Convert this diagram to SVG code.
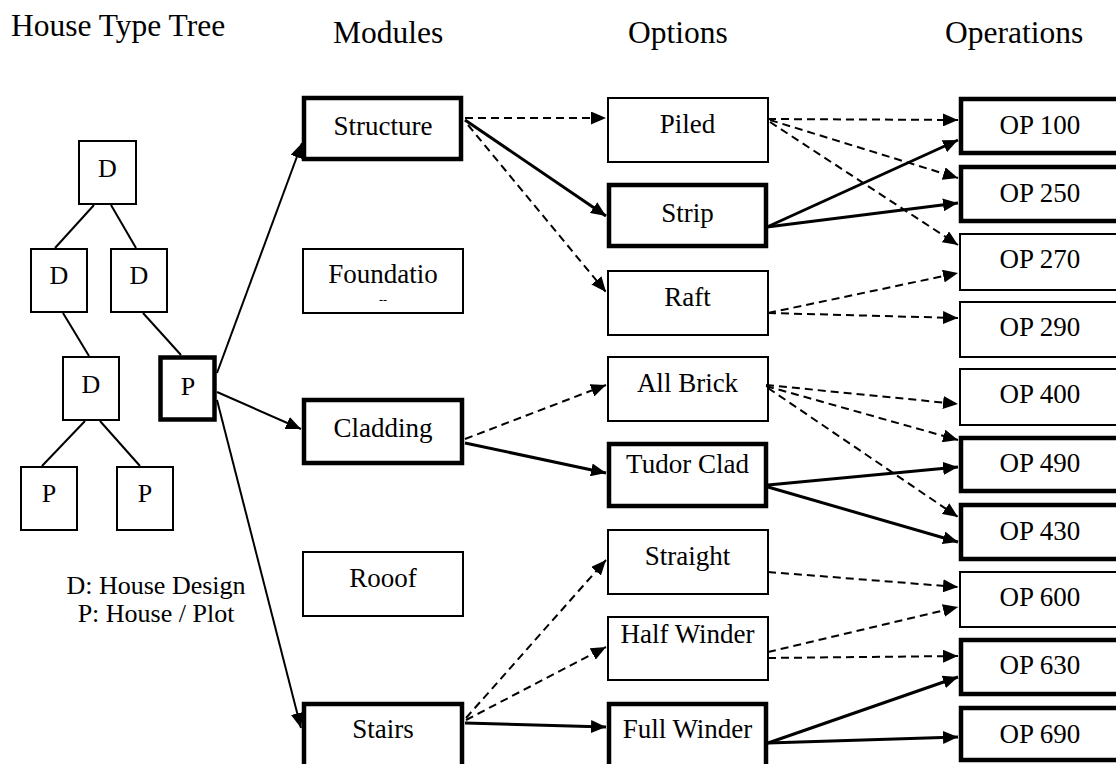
<svg xmlns="http://www.w3.org/2000/svg" width="1116" height="764" viewBox="0 0 1116 764">
<style>
text{font-family:"Liberation Serif","Times New Roman",serif;fill:#000}
.t{font-size:27px;text-anchor:middle}
.tr{font-size:26px;text-anchor:middle}
.h{font-size:31.5px}
.n{fill:#fff;stroke:#000;stroke-width:2}
.b{fill:#fff;stroke:#000;stroke-width:4.5}
.tl{stroke:#000;stroke-width:2;fill:none}
.arr{stroke:#000;stroke-width:2;fill:none;marker-end:url(#ah)}
.s{stroke:#000;stroke-width:3;fill:none;marker-end:url(#ah)}
.d{stroke:#000;stroke-width:2;fill:none;stroke-dasharray:8 5;marker-end:url(#ah)}
</style>
<defs>
<marker id="ah" markerUnits="userSpaceOnUse" markerWidth="16" markerHeight="13" refX="15" refY="6.5" orient="auto">
<path d="M0,0 L15,6.5 L0,13 z" fill="#000"/>
</marker>
</defs>
<rect width="1116" height="764" fill="#fff"/>

<g id="titles">
<text class="h" x="11" y="36">House Type Tree</text>
<text class="h" x="333" y="43">Modules</text>
<text class="h" x="628" y="43">Options</text>
<text class="h" x="945" y="43">Operations</text>
</g>

<g id="tree-lines">
<line class="tl" x1="94" y1="205" x2="55" y2="248"/>
<line class="tl" x1="111" y1="205" x2="136" y2="248"/>
<line class="tl" x1="63" y1="313" x2="89" y2="356"/>
<line class="tl" x1="143" y1="313" x2="181" y2="355"/>
<line class="tl" x1="85" y1="421" x2="42" y2="466"/>
<line class="tl" x1="100" y1="421" x2="140" y2="466"/>
</g>

<g id="tree-d1"><rect class="n" x="79" y="141" width="57" height="63"/><text class="tr" x="107.5" y="177">D</text></g>
<g id="tree-d2"><rect class="n" x="31" y="249" width="56" height="63"/><text class="tr" x="59" y="284">D</text></g>
<g id="tree-d3"><rect class="n" x="111" y="249" width="56" height="63"/><text class="tr" x="139" y="284">D</text></g>
<g id="tree-d4"><rect class="n" x="63" y="357" width="56" height="63"/><text class="tr" x="91" y="393">D</text></g>
<g id="tree-p-main"><rect class="b" x="160.5" y="357.5" width="54" height="62"/><text class="tr" x="188" y="395">P</text></g>
<g id="tree-p1"><rect class="n" x="21" y="467" width="56" height="63"/><text class="tr" x="49" y="502">P</text></g>
<g id="tree-p2"><rect class="n" x="117" y="467" width="56" height="63"/><text class="tr" x="145" y="502">P</text></g>

<g id="legend">
<text class="tr" x="156" y="594">D: House Design</text>
<text class="tr" x="156" y="622">P: House / Plot</text>
</g>

<g id="mod-structure"><rect class="b" x="304" y="98" width="157" height="61"/><text class="t" x="383" y="135">Structure</text></g>
<g id="mod-foundation"><rect class="n" x="303" y="249" width="160" height="64"/><text class="t" x="383" y="283">Foundatio</text><text x="383" y="304" style="font-size:12px;text-anchor:middle">--</text></g>
<g id="mod-cladding"><rect class="b" x="304" y="400" width="158" height="63"/><text class="t" x="383" y="437">Cladding</text></g>
<g id="mod-roof"><rect class="n" x="303" y="552" width="160" height="64"/><text class="t" x="383" y="587">Rooof</text></g>
<g id="mod-stairs"><rect class="b" x="304" y="704" width="158" height="70"/><text class="t" x="383" y="738">Stairs</text></g>

<g id="opt-piled"><rect class="n" x="608" y="98" width="160" height="64"/><text class="t" x="687.5" y="133">Piled</text></g>
<g id="opt-strip"><rect class="b" x="609" y="185" width="157" height="61"/><text class="t" x="687.5" y="222">Strip</text></g>
<g id="opt-raft"><rect class="n" x="608" y="271" width="160" height="64"/><text class="t" x="687.5" y="306">Raft</text></g>
<g id="opt-allbrick"><rect class="n" x="608" y="357" width="160" height="64"/><text class="t" x="687.5" y="392">All Brick</text></g>
<g id="opt-tudor"><rect class="b" x="609" y="444" width="157" height="62"/><text class="t" x="687.5" y="473">Tudor Clad</text></g>
<g id="opt-straight"><rect class="n" x="608" y="530" width="160" height="64"/><text class="t" x="687.5" y="565">Straight</text></g>
<g id="opt-halfwinder"><rect class="n" x="608" y="617" width="160" height="63"/><text class="t" x="687.5" y="643">Half Winder</text></g>
<g id="opt-fullwinder"><rect class="b" x="609" y="704" width="157" height="70"/><text class="t" x="687.5" y="738">Full Winder</text></g>

<g id="op-100"><rect class="b" x="961" y="99" width="162" height="54"/><text class="t" x="1040" y="134">OP 100</text></g>
<g id="op-250"><rect class="b" x="961" y="167" width="162" height="54"/><text class="t" x="1040" y="202">OP 250</text></g>
<g id="op-270"><rect class="n" x="960" y="234" width="162" height="56"/><text class="t" x="1040" y="268">OP 270</text></g>
<g id="op-290"><rect class="n" x="960" y="302" width="162" height="55"/><text class="t" x="1040" y="336">OP 290</text></g>
<g id="op-400"><rect class="n" x="960" y="369" width="162" height="56"/><text class="t" x="1040" y="403">OP 400</text></g>
<g id="op-490"><rect class="b" x="961" y="438" width="162" height="53"/><text class="t" x="1040" y="472">OP 490</text></g>
<g id="op-430"><rect class="b" x="961" y="505" width="162" height="54"/><text class="t" x="1040" y="540">OP 430</text></g>
<g id="op-600"><rect class="n" x="960" y="572" width="162" height="55"/><text class="t" x="1040" y="606">OP 600</text></g>
<g id="op-630"><rect class="b" x="961" y="640" width="162" height="54"/><text class="t" x="1040" y="674">OP 630</text></g>
<g id="op-690"><rect class="b" x="961" y="708" width="162" height="52"/><text class="t" x="1040" y="743">OP 690</text></g>

<g id="connectors">
<line class="arr" x1="217" y1="373" x2="302" y2="143"/>
<line class="arr" x1="217" y1="392" x2="301" y2="429"/>
<line class="arr" x1="217" y1="400" x2="301" y2="728"/>

<line class="d" x1="465" y1="118" x2="606" y2="118"/>
<line class="s" x1="465" y1="120" x2="606" y2="216"/>
<line class="d" x1="468" y1="125" x2="606" y2="292"/>
<line class="d" x1="465" y1="439" x2="606" y2="385"/>
<line class="s" x1="465" y1="443" x2="606" y2="473"/>
<line class="d" x1="466" y1="718" x2="606" y2="560"/>
<line class="d" x1="466" y1="720" x2="606" y2="647"/>
<line class="s" x1="465" y1="723" x2="606" y2="727"/>

<line class="d" x1="768" y1="119" x2="958" y2="120"/>
<line class="d" x1="770" y1="120" x2="958" y2="178"/>
<line class="d" x1="770" y1="122" x2="958" y2="245"/>
<line class="s" x1="767" y1="227" x2="958" y2="140"/>
<line class="s" x1="767" y1="227" x2="958" y2="203"/>
<line class="d" x1="768" y1="313" x2="958" y2="273"/>
<line class="d" x1="768" y1="313" x2="958" y2="318"/>

<line class="d" x1="766" y1="385" x2="958" y2="404"/>
<line class="d" x1="766" y1="386" x2="958" y2="440"/>
<line class="d" x1="768" y1="388" x2="958" y2="517"/>
<line class="s" x1="768" y1="485" x2="958" y2="467"/>
<line class="s" x1="768" y1="487" x2="958" y2="542"/>
<line class="d" x1="768" y1="572" x2="958" y2="587"/>
<line class="d" x1="768" y1="652" x2="958" y2="607"/>
<line class="d" x1="768" y1="658" x2="958" y2="656"/>
<line class="s" x1="768" y1="743" x2="958" y2="677"/>
<line class="s" x1="768" y1="743" x2="958" y2="737"/>
</g>
</svg>
